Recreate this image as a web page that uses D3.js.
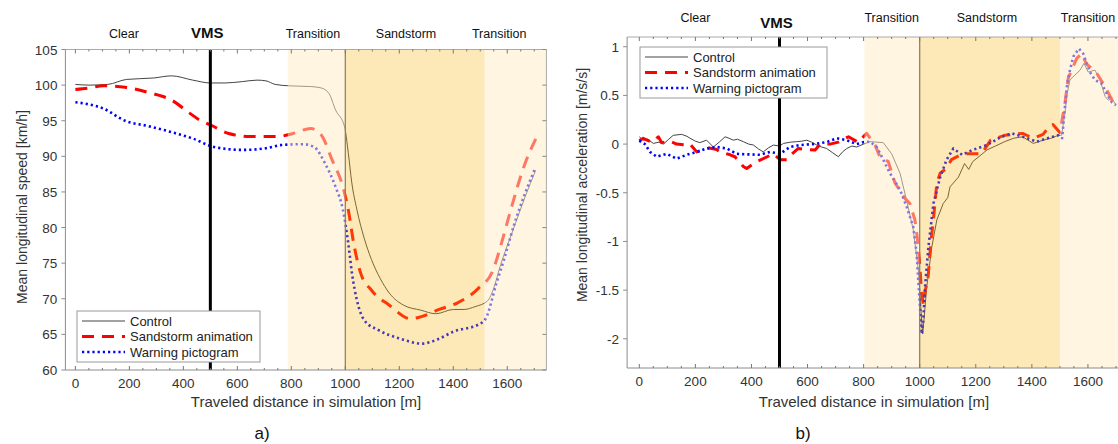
<!DOCTYPE html>
<html><head><meta charset="utf-8">
<script src="https://cdn.jsdelivr.net/npm/d3@7"></script>
<style>
body{margin:0;background:#fff;}
svg{display:block;}
text{font-family:"Liberation Sans",Arial,sans-serif;}
</style></head>
<body>
<svg id="c" width="1118" height="444"></svg>
<script>
// ---------- DATA ----------
const seriesNames = ["Control", "Sandstorm animation", "Warning pictogram"];
const zoneLabels = ["Clear", "Transition", "Sandstorm", "Transition"];
const vmsLabel = "VMS";
const vmsPosition = 500;
const stormStart = 1000;
const zonesSpeed = [[787, 1000, "light"], [1000, 1516, "dark"], [1516, 1760, "light"]];
const zonesAccel = [[803, 1000, "light"], [1000, 1500, "dark"], [1500, 1760, "light"]];
const zoneLabelPosSpeed = [180, 880, 1225, 1570];
const zoneLabelPosAccel = [200, 900, 1240, 1600];
const xTicks = [0, 200, 400, 600, 800, 1000, 1200, 1400, 1600];
const speedTicks = [60, 65, 70, 75, 80, 85, 90, 95, 100, 105];
const accelTicks = [-2, -1.5, -1, -0.5, 0, 0.5, 1];

const speedControl = [[0,100.1],[50,100.0],[120,100.1],[190,100.8],[290,101.0],[356,101.3],[435,100.7],[500,100.3],[554,100.3],[620,100.5],[673,100.7],[706,100.6],[740,100.1],[792,99.9],[872,99.8],[911,99.6],[940,98.8],[964,96.5],[997,94.2],[1011,90.5],[1024,86.3],[1043,82.5],[1070,78.5],[1097,75.5],[1130,72.8],[1163,70.8],[1216,69.1],[1280,68.4],[1335,67.9],[1401,68.5],[1440,68.5],[1481,68.9],[1527,69.7],[1550,71.5],[1573,74.5],[1620,79.5],[1666,84.3],[1705,88.0]];
const speedSandstorm = [[0,99.4],[50,99.6],[104,99.9],[184,99.7],[276,98.9],[356,97.9],[422,96.1],[460,95.1],[501,94.4],[568,93.2],[647,92.8],[753,92.8],[806,93.2],[872,93.9],[911,93.0],[951,89.5],[991,85.7],[1011,82.5],[1031,77.8],[1057,73.6],[1097,71.2],[1163,69.1],[1242,67.2],[1282,67.5],[1348,68.5],[1414,69.4],[1494,71.5],[1547,74.0],[1580,78.0],[1613,82.5],[1666,89.0],[1706,92.5]];
const speedWarning = [[0,97.6],[50,97.3],[104,96.7],[184,95.0],[276,94.2],[356,93.4],[435,92.5],[515,91.3],[620,90.9],[700,91.1],[766,91.6],[845,91.7],[885,91.3],[925,89.0],[964,85.7],[991,82.5],[1011,77.8],[1025,73.5],[1043,69.8],[1070,67.0],[1123,65.6],[1203,64.4],[1282,63.7],[1348,64.4],[1401,65.4],[1494,66.4],[1520,67.2],[1560,72.2],[1587,75.4],[1627,80.6],[1666,84.8],[1701,88.1]];

const accelControl = [[0,0.075],[14,0.04],[30,0.05],[50,0.007],[70,0.02],[86,0.0],[105,0.05],[121,0.09],[151,0.1],[170,0.08],[181,0.06],[200,0.03],[216,0.015],[240,0.04],[264,-0.03],[285,0.02],[306,0.075],[320,0.06],[335,0.04],[350,0.05],[371,0.025],[390,0.0],[407,-0.01],[425,-0.05],[442,-0.08],[460,-0.04],[478,-0.01],[500,-0.02],[514,0.007],[540,0.02],[561,0.025],[580,0.03],[597,0.04],[615,0.02],[633,-0.01],[650,-0.03],[668,-0.045],[690,-0.09],[710,-0.13],[725,-0.08],[740,-0.045],[758,-0.02],[775,-0.03],[800,0.0],[823,0.025],[870,0.015],[900,-0.1],[930,-0.3],[953,-0.575],[977,-0.88],[995,-1.29],[1007,-1.81],[1011,-1.95],[1025,-1.47],[1043,-1.06],[1061,-0.78],[1084,-0.61],[1100,-0.55],[1108,-0.44],[1138,-0.34],[1160,-0.2],[1175,-0.26],[1189,-0.18],[1215,-0.12],[1240,-0.06],[1270,-0.02],[1303,0.025],[1335,0.06],[1367,0.075],[1405,0.007],[1440,0.04],[1468,0.06],[1494,0.09],[1506,0.09],[1518,0.32],[1526,0.52],[1536,0.66],[1554,0.71],[1572,0.76],[1586,0.83],[1601,0.74],[1625,0.76],[1643,0.66],[1661,0.49],[1673,0.45],[1685,0.47],[1700,0.4]];
const accelSandstorm = [[0,0.035],[14,0.06],[20,0.05],[45,0.02],[68,0.075],[80,0.015],[109,0.03],[133,0.0],[169,-0.01],[181,0.0],[205,-0.08],[216,-0.07],[250,-0.04],[276,-0.055],[288,-0.08],[324,-0.11],[341,-0.13],[371,-0.23],[383,-0.25],[419,-0.18],[442,-0.15],[478,-0.1],[502,-0.16],[526,-0.16],[545,-0.1],[567,-0.045],[597,-0.055],[627,-0.06],[645,0.0],[680,0.0],[710,0.02],[728,0.05],[746,0.075],[780,0.02],[811,0.11],[841,-0.01],[858,-0.13],[888,-0.18],[912,-0.4],[948,-0.56],[965,-0.61],[983,-0.78],[991,-0.95],[999,-1.19],[1007,-1.53],[1013,-1.65],[1020,-1.5],[1029,-1.4],[1035,-1.19],[1040,-1.0],[1049,-0.78],[1061,-0.4],[1073,-0.3],[1095,-0.25],[1113,-0.16],[1140,-0.12],[1170,-0.1],[1221,-0.1],[1253,0.04],[1303,0.09],[1367,0.11],[1405,0.06],[1440,0.1],[1462,0.18],[1475,0.2],[1500,0.12],[1518,0.42],[1530,0.68],[1560,0.88],[1578,0.93],[1595,0.82],[1613,0.78],[1631,0.73],[1661,0.59],[1690,0.43],[1705,0.4]];
const accelWarning = [[0,0.035],[20,0.0],[38,-0.08],[62,-0.13],[98,-0.1],[133,-0.15],[169,-0.11],[205,-0.08],[240,-0.045],[276,-0.03],[312,-0.045],[347,-0.1],[383,-0.105],[430,-0.11],[466,-0.08],[502,-0.1],[537,-0.03],[573,-0.01],[621,0.0],[668,0.02],[704,0.06],[740,0.04],[775,0.0],[800,0.02],[823,0.025],[847,-0.03],[870,-0.16],[894,-0.3],[930,-0.47],[953,-0.64],[977,-0.85],[989,-1.12],[995,-1.4],[1001,-1.67],[1007,-1.95],[1013,-1.8],[1019,-1.47],[1031,-1.06],[1049,-0.61],[1073,-0.34],[1096,-0.16],[1120,-0.045],[1151,-0.11],[1189,-0.06],[1240,-0.01],[1291,0.075],[1329,0.11],[1367,0.075],[1418,0.025],[1456,0.06],[1494,0.09],[1508,0.06],[1518,0.38],[1526,0.62],[1536,0.76],[1548,0.9],[1568,0.98],[1583,0.93],[1607,0.74],[1625,0.66],[1649,0.62],[1667,0.52],[1685,0.43],[1700,0.4]];

// ---------- STYLE ----------
const seriesStyle = [
  {color:"#444", width:1, dash:null},
  {color:"#ff0000", width:3, dash:"12,8"},
  {color:"#0000ff", width:2.6, dash:"2.2,3"}
];
const zoneFill = {light:{c:"rgb(255,236,195)", o:0.5}, dark:{c:"rgb(248,182,18)", o:0.3}};

const svg = d3.select("#c");

function panel(cfg){
  const g = svg.append("g");
  const x = d3.scaleLinear().domain(cfg.xDomain).range(cfg.xRange);
  const y = d3.scaleLinear().domain(cfg.yDomain).range(cfg.yRange);
  const [x0,x1] = cfg.xRange, [yb,yt] = cfg.yRange;

  const clipId = "clip"+cfg.id;
  svg.append("clipPath").attr("id",clipId).append("rect")
    .attr("x",x0).attr("y",yt).attr("width",x1-x0).attr("height",yb-yt);
  const plot = g.append("g").attr("clip-path",`url(#${clipId})`);

  const line = d3.line().x(d=>x(d[0])).y(d=>y(d[1])).curve(cfg.curve);
  cfg.series.forEach((s,i)=>{
    const st = seriesStyle[i];
    plot.append("path").datum(s).attr("d",line)
      .attr("fill","none").attr("stroke",st.color).attr("stroke-width",st.width)
      .attr("stroke-dasharray",st.dash).attr("stroke-linejoin","round");
  });
  cfg.zones.forEach(z=>{
    plot.append("rect").attr("x",x(z[0])).attr("y",yt)
      .attr("width",x(z[1])-x(z[0])).attr("height",yb-yt)
      .attr("fill",zoneFill[z[2]].c).attr("fill-opacity",zoneFill[z[2]].o);
  });
  plot.append("line").attr("x1",x(stormStart)).attr("x2",x(stormStart))
    .attr("y1",yt).attr("y2",yb).attr("stroke","#8a7a55").attr("stroke-width",1.2);
  plot.append("line").attr("x1",x(vmsPosition)).attr("x2",x(vmsPosition))
    .attr("y1",yt).attr("y2",yb).attr("stroke","#000").attr("stroke-width",3);

  const axc = "#8c8c8c";
  g.append("line").attr("x1",x0).attr("x2",x0).attr("y1",yt).attr("y2",yb).attr("stroke",axc);
  g.append("line").attr("x1",x0).attr("x2",x1).attr("y1",yb).attr("y2",yb).attr("stroke",axc);
  g.append("line").attr("x1",x0).attr("x2",x1).attr("y1",yt).attr("y2",yt).attr("stroke","#aaa");
  if(cfg.rightBorder) g.append("line").attr("x1",x1).attr("x2",x1).attr("y1",yt).attr("y2",yb).attr("stroke","#aaa");

  const minor = d3.range(0, cfg.xDomain[1], 50);
  minor.forEach(v=>{
    const major = v % 200 === 0;
    const L = major ? 4 : 2;
    g.append("line").attr("x1",x(v)).attr("x2",x(v)).attr("y1",yb).attr("y2",yb-L).attr("stroke","#777");
    g.append("line").attr("x1",x(v)).attr("x2",x(v)).attr("y1",yt).attr("y2",yt+L).attr("stroke","#777");
  });
  xTicks.forEach(v=>{
    g.append("text").attr("x",x(v)).attr("y",yb+18).attr("text-anchor","middle")
      .attr("font-size",13.5).attr("fill","#333").text(v);
  });
  cfg.yTicks.forEach(v=>{
    g.append("line").attr("x1",x0).attr("x2",x0-4).attr("y1",y(v)).attr("y2",y(v)).attr("stroke",axc);
    if(cfg.rightBorder) g.append("line").attr("x1",x1).attr("x2",x1-4).attr("y1",y(v)).attr("y2",y(v)).attr("stroke","#888");
    g.append("text").attr("x",x0-8).attr("y",y(v)+5).attr("text-anchor","end")
      .attr("font-size",13.5).attr("fill","#333").text(v);
  });
  g.append("text").attr("x",cfg.xTitlePos[0]).attr("y",cfg.xTitlePos[1]).attr("text-anchor","middle")
    .attr("font-size",15).attr("fill","#333").text("Traveled distance in simulation [m]");
  g.append("text").attr("transform",`translate(${cfg.yTitlePos[0]},${cfg.yTitlePos[1]}) rotate(-90)`)
    .attr("text-anchor","middle").attr("font-size",14).attr("fill","#333").text(cfg.yTitle);

  cfg.zoneLabelPos.forEach((p,i)=>{
    g.append("text").attr("x",x(p)).attr("y",cfg.labelY).attr("text-anchor","middle")
      .attr("font-family","'Open Sans',sans-serif").attr("font-size",12.5).attr("fill","#111").text(zoneLabels[i]);
  });
  g.append("text").attr("x",x(vmsPosition)-3).attr("y",cfg.vmsY).attr("text-anchor","middle")
    .attr("font-family","'Open Sans',sans-serif").attr("font-size",15).attr("font-weight",600)
    .attr("fill","#111").text(vmsLabel);

  const lg = g.append("g").attr("transform",`translate(${cfg.legend[0]},${cfg.legend[1]})`);
  lg.append("rect").attr("width",cfg.legend[2]).attr("height",51).attr("fill","#fff").attr("stroke","#999");
  seriesNames.forEach((n,i)=>{
    const st = seriesStyle[i];
    const yy = 10 + i*15.5;
    lg.append("line").attr("x1",5).attr("x2",48).attr("y1",yy).attr("y2",yy)
      .attr("stroke",st.color).attr("stroke-width",st.width).attr("stroke-dasharray",st.dash);
    lg.append("text").attr("x",53).attr("y",yy+4.5).attr("font-size",13).attr("fill","#222").text(n);
  });

  g.append("text").attr("x",cfg.letterPos[0]).attr("y",cfg.letterPos[1]).attr("text-anchor","middle")
    .attr("font-family","'DejaVu Sans',sans-serif").attr("font-size",17).attr("fill","#111").text(cfg.letter);
}

panel({
  id:"a", xDomain:[-37,1745], xRange:[65.4,546.4], yDomain:[60,105], yRange:[370,49.5],
  curve:d3.curveMonotoneX, series:[speedControl,speedSandstorm,speedWarning], zones:zonesSpeed,
  yTicks:speedTicks, rightBorder:true, yTitle:"Mean longitudinal speed [km/h]",
  xTitlePos:[306,407], yTitlePos:[27,207], zoneLabelPos:zoneLabelPosSpeed, labelY:38, vmsY:38,
  legend:[77,311,183], letter:"a)", letterPos:[262,439]
});
panel({
  id:"b", xDomain:[-43.5,1750], xRange:[627.1,1130], yDomain:[-2.3,1.1], yRange:[368,37],
  curve:d3.curveLinear, series:[accelControl,accelSandstorm,accelWarning], zones:zonesAccel,
  yTicks:accelTicks, rightBorder:false, yTitle:"Mean longitudinal acceleration [m/s/s]",
  xTitlePos:[874,407], yTitlePos:[587,185], zoneLabelPos:zoneLabelPosAccel, labelY:22, vmsY:28,
  legend:[640,47,187], letter:"b)", letterPos:[803,439]
});
</script>
</body></html>
